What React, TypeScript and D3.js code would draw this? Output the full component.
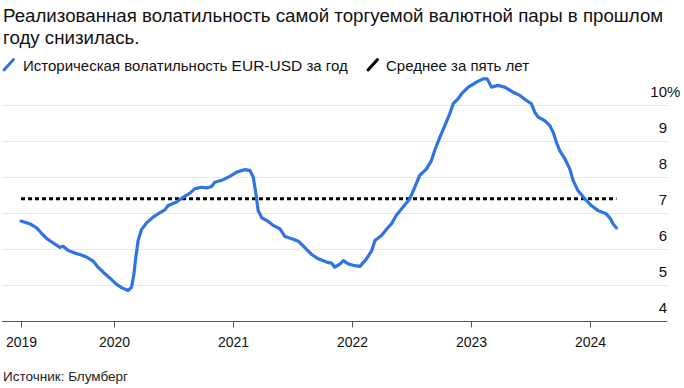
import React from 'react'
import * as d3 from 'd3'

// Историческая волатильность EUR-USD за год, %
const dates = [
  '2019-03-23', '2019-04-20', '2019-05-10', '2019-05-25', '2019-06-10', '2019-06-30',
  '2019-07-20', '2019-07-30', '2019-08-15', '2019-09-04', '2019-09-19', '2019-10-10',
  '2019-10-30', '2019-11-14', '2019-11-30', '2019-12-20', '2020-01-10', '2020-01-25',
  '2020-02-14', '2020-02-25', '2020-03-03', '2020-03-09', '2020-03-16', '2020-03-26',
  '2020-04-11', '2020-05-01', '2020-05-21', '2020-06-06', '2020-06-16', '2020-07-12',
  '2020-08-01', '2020-08-21', '2020-09-06', '2020-09-26', '2020-10-12', '2020-10-27',
  '2020-11-06', '2020-12-02', '2020-12-22', '2021-01-12', '2021-02-07', '2021-02-22',
  '2021-03-04', '2021-03-12', '2021-03-19', '2021-03-30', '2021-04-19', '2021-05-04',
  '2021-05-25', '2021-06-09', '2021-06-30', '2021-07-20', '2021-08-09', '2021-08-30',
  '2021-09-19', '2021-10-15', '2021-10-30', '2021-11-09', '2021-11-25', '2021-12-05',
  '2021-12-20', '2022-01-04', '2022-01-25', '2022-02-14', '2022-03-02', '2022-03-12',
  '2022-04-01', '2022-04-17', '2022-05-02', '2022-05-17', '2022-06-06', '2022-06-27',
  '2022-07-12', '2022-07-27', '2022-08-17', '2022-09-01', '2022-09-11', '2022-09-27',
  '2022-10-12', '2022-10-27', '2022-11-07', '2022-11-22', '2022-12-02', '2022-12-23',
  '2023-01-17', '2023-02-06', '2023-02-19', '2023-03-04', '2023-03-24', '2023-04-14',
  '2023-05-09', '2023-05-30', '2023-06-19', '2023-07-04', '2023-07-15', '2023-07-25',
  '2023-08-14', '2023-08-30', '2023-09-09', '2023-09-19', '2023-09-29', '2023-10-15',
  '2023-10-30', '2023-11-09', '2023-11-24', '2023-12-15', '2024-01-04', '2024-01-25',
  '2024-02-19', '2024-03-03', '2024-03-11', '2024-03-21',
]
const vol = [
  6.79, 6.71, 6.6, 6.45, 6.3, 6.18,
  6.06, 6.09, 5.97, 5.9, 5.86, 5.79,
  5.68, 5.51, 5.37, 5.21, 5.03, 4.94,
  4.86, 4.95, 5.32, 5.79, 6.25, 6.55,
  6.74, 6.9, 7.02, 7.1, 7.22, 7.32,
  7.45, 7.56, 7.69, 7.73, 7.71, 7.75,
  7.87, 7.94, 8.03, 8.15, 8.22, 8.19,
  8.01, 7.55, 7.08, 6.88, 6.78, 6.67,
  6.57, 6.36, 6.3, 6.23, 6.05, 5.86,
  5.74, 5.65, 5.62, 5.51, 5.6, 5.69,
  5.6, 5.56, 5.53, 5.74, 5.97, 6.25,
  6.39, 6.57, 6.72, 6.96, 7.18, 7.41,
  7.73, 8.06, 8.24, 8.47, 8.75, 9.12,
  9.44, 9.77, 10.05, 10.19, 10.32, 10.51,
  10.65, 10.74, 10.74, 10.51, 10.56, 10.51,
  10.37, 10.28, 10.14, 10.05, 9.81, 9.68,
  9.58, 9.44, 9.26, 8.98, 8.75, 8.52,
  8.24, 7.92, 7.64, 7.41, 7.22, 7.08,
  6.99, 6.85, 6.71, 6.6,
]
// Среднее за пять лет
const avg5y = 7.41

const yTicks = [4, 5, 6, 7, 8, 9, 10]
const yearTicks = ['2019-03-23', '2020-01-01', '2021-01-01', '2022-01-01', '2023-01-01', '2024-01-01']
const yearLabels = ['2019', '2020', '2021', '2022', '2023', '2024']

const titleLines = [
  'Реализованная волатильность самой торгуемой валютной пары в прошлом',
  'году снизилась.',
]

const W = 684
const H = 388
const font = '"Liberation Sans", Arial, sans-serif'
const blue = '#2f74e6'

export default function App() {
  const parse = d3.timeParse('%Y-%m-%d')
  const data = dates.map((d, i) => ({ date: parse(d) as Date, v: vol[i] }))

  const x = d3
    .scaleTime()
    .domain([parse('2019-03-23') as Date, parse('2024-08-23') as Date])
    .range([21, 667])
  const y = d3.scaleLinear().domain([4, 10]).range([321.5, 105.5])

  const line = d3
    .line<{ date: Date; v: number }>()
    .x((d) => x(d.date))
    .y((d) => y(d.v))
    .curve(d3.curveLinear)

  const first = data[0].date
  const last = data[data.length - 1].date

  return (
    <svg
      width={W}
      height={H}
      style={{ position: 'absolute', left: 0, top: 0, background: '#fff' }}
      fontFamily={font}
    >
      {titleLines.map((t, i) => (
        <text key={i} x={3} y={21.7 + i * 22.6} fontSize={18.7} fill="#111">
          {t}
        </text>
      ))}

      {/* legend */}
      <line x1={4} y1={70} x2={13.5} y2={59.5} stroke={blue} strokeWidth={3} strokeLinecap="round" />
      <text x={23} y={71} fontSize={15} fill="#111">
        Историческая волатильность <tspan fontSize={15.5}>EUR-USD</tspan> за год
      </text>
      <line x1={368} y1={70} x2={377.5} y2={59.5} stroke="#000" strokeWidth={3} strokeLinecap="round" />
      <text x={386} y={71} fontSize={15} fill="#111">
        Среднее за пять лет
      </text>

      {/* grid */}
      {yTicks.slice(1).map((t) => (
        <line key={t} x1={2} x2={668} y1={y(t)} y2={y(t)} stroke="#e8e8e8" strokeWidth={1} />
      ))}
      {yTicks.map((t) => (
        <text key={'l' + t} x={667} y={y(t) - 9} fontSize={15} textAnchor="end" fill="#111">
          {t}
        </text>
      ))}
      <text x={667} y={y(10) - 9} fontSize={15} fill="#111">
        %
      </text>

      {/* x axis */}
      <line x1={2} x2={667} y1={y(4)} y2={y(4)} stroke="#555" strokeWidth={1} />
      {yearTicks.map((d, i) => {
        const px = Math.round(x(parse(d) as Date)) + 0.5
        return (
          <g key={d}>
            <line x1={px} x2={px} y1={y(4)} y2={y(4) + 6} stroke="#555" strokeWidth={1} />
            <text x={px} y={347} fontSize={14} textAnchor="middle" fill="#111">
              {yearLabels[i]}
            </text>
          </g>
        )
      })}

      {/* five-year average */}
      <line
        x1={x(first)}
        x2={x(last)}
        y1={y(avg5y)}
        y2={y(avg5y)}
        stroke="#000"
        strokeWidth={3}
        strokeDasharray="4 3"
      />

      <path d={line(data) || ''} fill="none" stroke={blue} strokeWidth={3.2} strokeLinejoin="round" strokeLinecap="round" />

      <text x={3} y={381} fontSize={13.5} fill="#222">
        Источник: Блумберг
      </text>
    </svg>
  )
}
